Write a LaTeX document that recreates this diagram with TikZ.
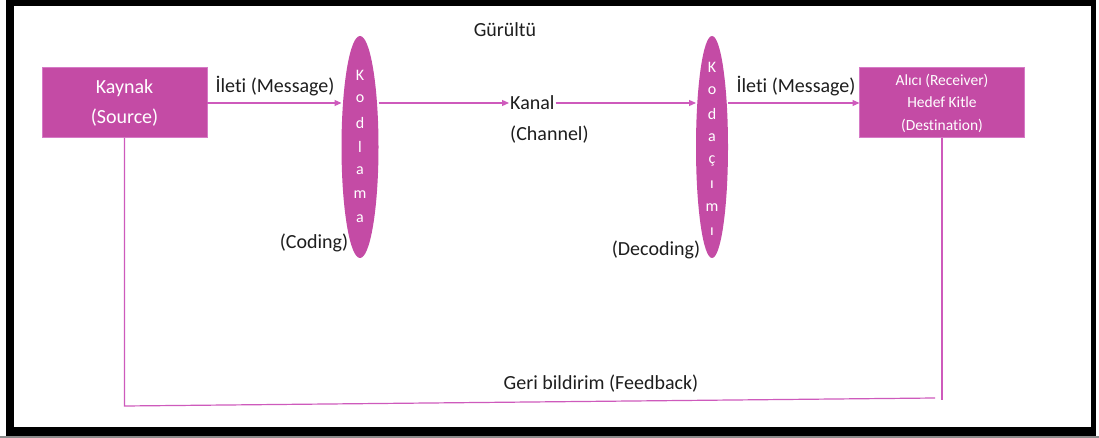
\documentclass[tikz,border=0pt]{standalone}
\usepackage{fontspec}
\setmainfont{Carlito}[RawFeature=-liga]
\usetikzlibrary{arrows.meta,shapes.geometric}
\definecolor{boxfill}{RGB}{196,75,165}
\definecolor{boxedge}{RGB}{214,122,198}
\definecolor{wire}{RGB}{206,90,188}
\definecolor{ink}{RGB}{30,30,30}
\begin{document}
\begin{tikzpicture}[x=1pt,y=-1pt,
  block/.style={draw=boxedge, fill=boxfill, line width=1pt, text=white,
    align=center, inner sep=0pt, outer sep=0pt,
    minimum width=165pt, minimum height=70pt},
  lens/.style={ellipse, fill=boxfill, draw=none, inner sep=0pt, outer sep=0pt},
  letter/.style={text=white, inner sep=0pt, font=\fontsize{16}{17}\selectfont},
  caption/.style={text=ink, inner sep=1pt, font=\fontsize{20}{24}\selectfont},
  wire/.style={draw=wire, line width=1.2pt},
  flow/.style={wire, -{Triangle[length=7pt,width=6pt]}}
]
\useasboundingbox (0,0) rectangle (1099,438);
% frame
\fill[white] (0,0) rectangle (1099,438);
\fill[black] (6,0) rectangle (1096,436);
\fill[white] (14,6) rectangle (1091,427);
\fill[black!45] (0,436) rectangle (1099,438);

% source and destination
\node[block, font=\fontsize{20}{30}\selectfont] (src) at (124.5,103) {Kaynak\\(Source)};
\node[block, font=\fontsize{15.5}{22.5}\selectfont] (dst) at (942,103) {Alıcı (Receiver)\\Hedef Kitle\\(Destination)};

% coder and decoder
\node[lens, minimum width=37pt, minimum height=222pt] (enc) at (360,147) {};
\node[lens, minimum width=32pt, minimum height=222pt] (dec) at (712,147) {};
\foreach \ch [count=\i from 0] in {K,o,d,l,a,m,a}
  \node[letter] (encL\i) at (360,75+24*\i) {\ch};
\foreach \ch [count=\i from 0] in {K,o,d,a,ç,ı,m,ı}
  \node[letter] (decL\i) at (712,67+23.5*\i) {\ch};

% channel
\node[caption, anchor=west] (kanal) at (509,103) {Kanal};
\node[caption, anchor=west] (channel) at (509,135) {(Channel)};

% labels
\node[caption] (noise) at (505,30) {Gürültü};
\node[caption] (msg1) at (275,86) {İleti (Message)};
\node[caption] (msg2) at (796,86) {İleti (Message)};
\node[caption] (coding) at (314,243) {(Coding)};
\node[caption] (decoding) at (656,250) {(Decoding)};
\node[caption] (fb) at (601,384) {Geri bildirim (Feedback)};

% forward path
\draw[flow] (src.east) -- (src.east -| enc.west);
\draw[flow] (enc.east |- kanal.west) -- (kanal.west);
\draw[flow] (kanal.east) -- (kanal.east -| dec.west);
\draw[flow] (dec.east |- dst.west) -- (dst.west);

% feedback path
\coordinate (fbL) at (126,406);
\coordinate (fbR) at (935,398);
\coordinate (fbUp) at (942,400);
\draw[wire] (src.south) -- (src.south |- fbL) -- (fbR);
\draw[wire] (dst.south) -- (dst.south |- fbUp);
\end{tikzpicture}
\end{document}
